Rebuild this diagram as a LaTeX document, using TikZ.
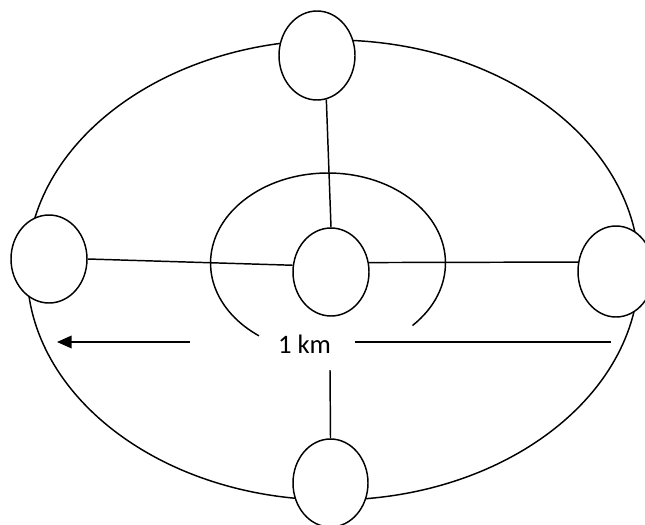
\documentclass[tikz,border=0pt]{standalone}
\usepackage{fontspec}
\setmainfont{Carlito}
\usetikzlibrary{shapes.geometric,arrows.meta}
\begin{document}
\begin{tikzpicture}[x=0.75pt,y=-0.75pt,
  line width=1.1pt,
  site/.style={ellipse,draw,fill=white,inner sep=0pt,minimum width=57pt,minimum height=66pt},
  link/.style={line width=1.1pt}]
\useasboundingbox (0,0) rectangle (645,524);
% outer ring
\node[ellipse,draw,inner sep=0pt,minimum width=459pt,minimum height=345pt] (outer) at (333,270) {};
% inner open arc
\coordinate (ic) at (328,263);
\draw (ic) ++(-44:88.1pt and 67.5pt) arc[start angle=-44,end angle=234,x radius=88.1pt,y radius=67.5pt];
% sites
\node[site,minimum height=66.75pt] (top) at (317,55.5) {};
\node[site] (left) at (49,259) {};
\node[site] (mid) at (331,272) {};
\node[site,minimum height=68.25pt] (right) at (616,271.5) {};
\node[site,minimum width=56.25pt] (bottom) at (330.5,483) {};
% connectors
\draw[link] (top.-78) -- (mid.north);
\draw[link] (left.east) -- (mid.170);
\draw[link] (mid.14) -- (right.166);
\coordinate (vtop) at (330,370);
\draw[link] (vtop) -- (bottom.north);
% scale bar
\node[inner sep=0pt,font=\fontsize{20pt}{24pt}\selectfont] (km) at (304.5,344) {1 km};
\coordinate (a1) at (190,342);
\coordinate (a2) at (57,342);
\draw[link,-{Triangle[length=11pt,width=9.5pt]}] (a1) -- (a2);
\coordinate (b1) at (355,342);
\coordinate (b2) at (611,342);
\draw[link] (b1) -- (b2);
\end{tikzpicture}
\end{document}
